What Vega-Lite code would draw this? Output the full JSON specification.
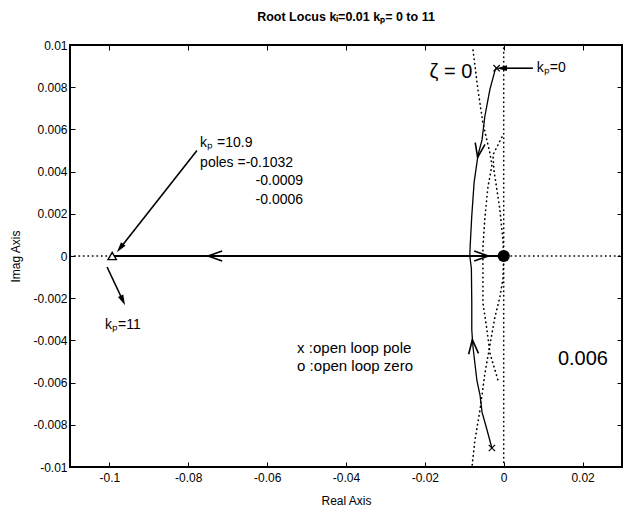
{
  "$schema": "https://vega.github.io/schema/vega-lite/v6.json",
  "width": 552,
  "height": 422,
  "autosize": {"type": "none"},
  "padding": {"left": 70, "top": 45, "right": 6, "bottom": 48},
  "background": "white",
  "config": {
    "view": {"stroke": "black", "strokeWidth": 2},
    "font": "Liberation Sans",
    "axis": {"labelColor": "black", "titleColor": "black", "tickColor": "black", "grid": false, "domain": false, "labelOverlap": false, "labelFlush": false, "labelFont": "Liberation Sans", "titleFont": "Liberation Sans"}
  },
  "title": {"text": "Root Locus kᵢ=0.01 kₚ= 0 to 11", "fontSize": 12.5, "font": "Liberation Sans", "fontWeight": "bold", "offset": 16, "anchor": "middle", "color": "black"},
  "datasets": {
    "dotted": [
      {"curve": "A", "i": 0, "re": -0.00779, "im": 0.00976},
      {"curve": "A", "i": 1, "re": -0.00653, "im": 0.00787},
      {"curve": "A", "i": 2, "re": -0.00527, "im": 0.0063},
      {"curve": "A", "i": 3, "re": -0.0035, "im": 0.00488},
      {"curve": "A", "i": 4, "re": -0.00299, "im": 0.0043},
      {"curve": "A", "i": 5, "re": -0.004, "im": 0.00327},
      {"curve": "A", "i": 6, "re": -0.00476, "im": 0.00185},
      {"curve": "A", "i": 7, "re": -0.00527, "im": 0.00043},
      {"curve": "A", "i": 8, "re": -0.00527, "im": -0.00081},
      {"curve": "A", "i": 9, "re": -0.00527, "im": -0.00223},
      {"curve": "A", "i": 10, "re": -0.00425, "im": -0.0035},
      {"curve": "A", "i": 11, "re": -0.0035, "im": -0.0046},
      {"curve": "A", "i": 12, "re": -0.00223, "im": -0.0054},
      {"curve": "A", "i": 13, "re": -0.00147, "im": -0.00588},
      {"curve": "B", "i": 0, "re": -0.00046, "im": 0.00564},
      {"curve": "B", "i": 1, "re": -0.00274, "im": 0.00479},
      {"curve": "B", "i": 2, "re": -0.00248, "im": 0.00407},
      {"curve": "B", "i": 3, "re": -0.00172, "im": 0.00313},
      {"curve": "B", "i": 4, "re": -0.00096, "im": 0.00218},
      {"curve": "B", "i": 5, "re": -0.00021, "im": 0.00076},
      {"curve": "B", "i": 6, "re": 0, "im": 0},
      {"curve": "B", "i": 7, "re": -0.00021, "im": -0.0011},
      {"curve": "B", "i": 8, "re": -0.00096, "im": -0.00194},
      {"curve": "B", "i": 9, "re": -0.00223, "im": -0.00289},
      {"curve": "B", "i": 10, "re": -0.0035, "im": -0.00422},
      {"curve": "B", "i": 11, "re": -0.00476, "im": -0.00555},
      {"curve": "B", "i": 12, "re": -0.00602, "im": -0.0073},
      {"curve": "B", "i": 13, "re": -0.00729, "im": -0.00872},
      {"curve": "B", "i": 14, "re": -0.00805, "im": -0.01},
      {"curve": "imag", "i": 0, "re": 0, "im": -0.01},
      {"curve": "imag", "i": 1, "re": 0, "im": 0.01},
      {"curve": "real", "i": 0, "re": -0.11, "im": 0},
      {"curve": "real", "i": 1, "re": 0.03, "im": 0}
    ],
    "locus": [
      {"branch": "upper", "i": 0, "re": -0.0018, "im": 0.0089},
      {"branch": "upper", "i": 1, "re": -0.0022, "im": 0.0088},
      {"branch": "upper", "i": 2, "re": -0.0035, "im": 0.0079},
      {"branch": "upper", "i": 3, "re": -0.0048, "im": 0.0066},
      {"branch": "upper", "i": 4, "re": -0.0055, "im": 0.0055},
      {"branch": "upper", "i": 5, "re": -0.0065, "im": 0.0048},
      {"branch": "upper", "i": 6, "re": -0.0075, "im": 0.0035},
      {"branch": "upper", "i": 7, "re": -0.0081, "im": 0.0019},
      {"branch": "upper", "i": 8, "re": -0.0085, "im": 0.0005},
      {"branch": "upper", "i": 9, "re": -0.0086, "im": 0},
      {"branch": "lower", "i": 0, "re": -0.003, "im": -0.0091},
      {"branch": "lower", "i": 1, "re": -0.0043, "im": -0.0082},
      {"branch": "lower", "i": 2, "re": -0.0055, "im": -0.0074},
      {"branch": "lower", "i": 3, "re": -0.006, "im": -0.0066},
      {"branch": "lower", "i": 4, "re": -0.0068, "im": -0.0059},
      {"branch": "lower", "i": 5, "re": -0.0078, "im": -0.0043},
      {"branch": "lower", "i": 6, "re": -0.0081, "im": -0.0035},
      {"branch": "lower", "i": 7, "re": -0.0081, "im": -0.0022},
      {"branch": "lower", "i": 8, "re": -0.0082, "im": -0.0006},
      {"branch": "lower", "i": 9, "re": -0.0086, "im": 0},
      {"branch": "real", "i": 0, "re": -0.0993, "im": 0},
      {"branch": "real", "i": 1, "re": -0.0003, "im": 0}
    ],
    "pointers": [
      {"arrow": "kp0", "i": 0, "re": 0.0074, "im": 0.0089},
      {"arrow": "kp0", "i": 1, "re": -0.0005, "im": 0.0089},
      {"arrow": "kp109", "i": 0, "re": -0.0778, "im": 0.005},
      {"arrow": "kp109", "i": 1, "re": -0.0973, "im": 0.00037},
      {"arrow": "kp11", "i": 0, "re": -0.1006, "im": -0.00052},
      {"arrow": "kp11", "i": 1, "re": -0.0966, "im": -0.00211}
    ],
    "heads": [
      {"head": "chevLeft", "re": -0.0732, "im": 0},
      {"head": "chevRight", "re": -0.0057, "im": 0},
      {"head": "chevDown", "re": -0.0063, "im": 0.005},
      {"head": "chevUp", "re": -0.0078, "im": -0.0043},
      {"head": "kp0", "re": -0.0005, "im": 0.0089},
      {"head": "kp109", "re": -0.0973, "im": 0.00037},
      {"head": "kp11", "re": -0.0966, "im": -0.00211}
    ],
    "markers": [
      {"kind": "zero", "re": 0, "im": 0},
      {"kind": "pole", "re": -0.0018, "im": 0.0089},
      {"kind": "pole", "re": -0.003, "im": -0.0091},
      {"kind": "final", "re": -0.0993, "im": 0}
    ],
    "notes": [
      {"role": "note", "re": 0.0084, "im": 0.0089, "label": "kₚ=0"},
      {"role": "note", "re": -0.077, "im": 0.00536, "label": "kₚ =10.9"},
      {"role": "note", "re": -0.077, "im": 0.00441, "label": "poles =-0.1032"},
      {"role": "note", "re": -0.1011, "im": -0.00327, "label": "kₚ=11"},
      {"role": "legend", "re": -0.0524, "im": -0.00436, "label": "x :open loop pole"},
      {"role": "legend", "re": -0.0524, "im": -0.0052, "label": "o :open loop zero"},
      {"role": "poleval", "re": -0.0509, "im": 0.00355, "label": "-0.0009"},
      {"role": "poleval", "re": -0.0509, "im": 0.00265, "label": "-0.0006"},
      {"role": "grid", "re": -0.0134, "im": 0.0087, "label": "ζ = 0"},
      {"role": "grid", "re": 0.0201, "im": -0.0049, "label": "0.006"}
    ]
  },
  "resolve": {"axis": {"x": "independent", "y": "independent"}},
  "layer": [
    {
      "data": {"name": "dotted"},
      "mark": {"type": "line", "color": "black", "strokeWidth": 1.6, "strokeDash": [0.5, 4], "strokeCap": "round", "clip": true},
      "encoding": {
        "x": {"field": "re", "type": "quantitative", "scale": {"domain": [-0.11, 0.03], "nice": false, "zero": false},
              "axis": {"orient": "bottom", "values": [-0.1, -0.08, -0.06, -0.04, -0.02, 0, 0.02], "labelExpr": "'' + datum.value", "title": "Real Axis", "tickSize": -5, "labelPadding": 10, "labelFontSize": 12, "titleFontSize": 12, "titleFontWeight": "normal", "titlePadding": 12}},
        "y": {"field": "im", "type": "quantitative", "scale": {"domain": [-0.01, 0.01], "nice": false, "zero": false},
              "axis": {"orient": "left", "values": [-0.01, -0.008, -0.006, -0.004, -0.002, 0, 0.002, 0.004, 0.006, 0.008, 0.01], "labelExpr": "'' + datum.value", "title": "Imag Axis", "tickSize": -5, "labelPadding": 8, "labelFontSize": 12, "titleFontSize": 12, "titleFontWeight": "normal", "titlePadding": 10}},
        "detail": {"field": "curve"},
        "order": {"field": "i"}
      }
    },
    {
      "data": {"name": "locus"},
      "transform": [{"filter": "datum.branch != 'real'"}],
      "mark": {"type": "line", "color": "black", "strokeWidth": 1.3},
      "encoding": {
        "x": {"field": "re", "type": "quantitative", "axis": {"orient": "top", "values": [-0.1, -0.08, -0.06, -0.04, -0.02, 0, 0.02], "labels": false, "tickSize": -5, "title": null}},
        "y": {"field": "im", "type": "quantitative", "axis": {"orient": "right", "values": [-0.01, -0.008, -0.006, -0.004, -0.002, 0, 0.002, 0.004, 0.006, 0.008, 0.01], "labels": false, "tickSize": -5, "title": null}},
        "detail": {"field": "branch"},
        "order": {"field": "i"}
      }
    },
    {
      "data": {"name": "locus"},
      "transform": [{"filter": "datum.branch == 'real'"}],
      "mark": {"type": "line", "color": "black", "strokeWidth": 2},
      "encoding": {
        "x": {"field": "re", "type": "quantitative", "axis": null},
        "y": {"field": "im", "type": "quantitative", "axis": null},
        "order": {"field": "i"}
      }
    },
    {
      "data": {"name": "pointers"},
      "mark": {"type": "line", "color": "black", "strokeWidth": 1.6},
      "encoding": {
        "x": {"field": "re", "type": "quantitative", "axis": null},
        "y": {"field": "im", "type": "quantitative", "axis": null},
        "detail": {"field": "arrow"},
        "order": {"field": "i"}
      }
    },
    {
      "data": {"name": "heads"},
      "transform": [{"filter": "datum.head == 'chevLeft'"}],
      "mark": {"type": "point", "shape": "M -1 -0.7 L 1 0 L -1 0.7", "angle": 180, "size": 200, "filled": false, "stroke": "black", "strokeWidth": 1.6, "opacity": 1},
      "encoding": {"x": {"field": "re", "type": "quantitative", "axis": null}, "y": {"field": "im", "type": "quantitative", "axis": null}}
    },
    {
      "data": {"name": "heads"},
      "transform": [{"filter": "datum.head == 'chevRight'"}],
      "mark": {"type": "point", "shape": "M -1 -0.7 L 1 0 L -1 0.7", "angle": 0, "size": 200, "filled": false, "stroke": "black", "strokeWidth": 1.6, "opacity": 1},
      "encoding": {"x": {"field": "re", "type": "quantitative", "axis": null}, "y": {"field": "im", "type": "quantitative", "axis": null}}
    },
    {
      "data": {"name": "heads"},
      "transform": [{"filter": "datum.head == 'chevDown'"}],
      "mark": {"type": "point", "shape": "M -1 -0.7 L 1 0 L -1 0.7", "angle": 100, "size": 200, "filled": false, "stroke": "black", "strokeWidth": 1.6, "opacity": 1},
      "encoding": {"x": {"field": "re", "type": "quantitative", "axis": null}, "y": {"field": "im", "type": "quantitative", "axis": null}}
    },
    {
      "data": {"name": "heads"},
      "transform": [{"filter": "datum.head == 'chevUp'"}],
      "mark": {"type": "point", "shape": "M -1 -0.7 L 1 0 L -1 0.7", "angle": 265, "size": 200, "filled": false, "stroke": "black", "strokeWidth": 1.6, "opacity": 1},
      "encoding": {"x": {"field": "re", "type": "quantitative", "axis": null}, "y": {"field": "im", "type": "quantitative", "axis": null}}
    },
    {
      "data": {"name": "heads"},
      "transform": [{"filter": "datum.head == 'kp0'"}],
      "mark": {"type": "point", "shape": "M -1 -0.55 L 1 0 L -1 0.55 Z", "angle": 180, "size": 110, "filled": true, "color": "black", "opacity": 1},
      "encoding": {"x": {"field": "re", "type": "quantitative", "axis": null}, "y": {"field": "im", "type": "quantitative", "axis": null}}
    },
    {
      "data": {"name": "heads"},
      "transform": [{"filter": "datum.head == 'kp109'"}],
      "mark": {"type": "point", "shape": "M -1 -0.55 L 1 0 L -1 0.55 Z", "angle": 128, "size": 110, "filled": true, "color": "black", "opacity": 1},
      "encoding": {"x": {"field": "re", "type": "quantitative", "axis": null}, "y": {"field": "im", "type": "quantitative", "axis": null}}
    },
    {
      "data": {"name": "heads"},
      "transform": [{"filter": "datum.head == 'kp11'"}],
      "mark": {"type": "point", "shape": "M -1 -0.55 L 1 0 L -1 0.55 Z", "angle": 65, "size": 110, "filled": true, "color": "black", "opacity": 1},
      "encoding": {"x": {"field": "re", "type": "quantitative", "axis": null}, "y": {"field": "im", "type": "quantitative", "axis": null}}
    },
    {
      "data": {"name": "markers"},
      "transform": [{"filter": "datum.kind == 'zero'"}],
      "mark": {"type": "point", "shape": "circle", "size": 150, "filled": true, "color": "black", "opacity": 1},
      "encoding": {"x": {"field": "re", "type": "quantitative", "axis": null}, "y": {"field": "im", "type": "quantitative", "axis": null}}
    },
    {
      "data": {"name": "markers"},
      "transform": [{"filter": "datum.kind == 'pole'"}],
      "mark": {"type": "point", "shape": "M -1 -1 L 1 1 M -1 1 L 1 -1", "size": 40, "filled": false, "stroke": "black", "strokeWidth": 1.2, "opacity": 1},
      "encoding": {"x": {"field": "re", "type": "quantitative", "axis": null}, "y": {"field": "im", "type": "quantitative", "axis": null}}
    },
    {
      "data": {"name": "markers"},
      "transform": [{"filter": "datum.kind == 'final'"}],
      "mark": {"type": "point", "shape": "triangle-up", "size": 70, "filled": true, "fill": "white", "stroke": "black", "strokeWidth": 1.4, "opacity": 1},
      "encoding": {"x": {"field": "re", "type": "quantitative", "axis": null}, "y": {"field": "im", "type": "quantitative", "axis": null}}
    },
    {
      "data": {"name": "notes"},
      "transform": [{"filter": "datum.role == 'note'"}],
      "mark": {"type": "text", "align": "left", "baseline": "middle", "fontSize": 14, "font": "Liberation Sans", "color": "black"},
      "encoding": {"x": {"field": "re", "type": "quantitative", "axis": null}, "y": {"field": "im", "type": "quantitative", "axis": null}, "text": {"field": "label"}}
    },
    {
      "data": {"name": "notes"},
      "transform": [{"filter": "datum.role == 'legend'"}],
      "mark": {"type": "text", "align": "left", "baseline": "middle", "fontSize": 15, "font": "Liberation Sans", "color": "black"},
      "encoding": {"x": {"field": "re", "type": "quantitative", "axis": null}, "y": {"field": "im", "type": "quantitative", "axis": null}, "text": {"field": "label"}}
    },
    {
      "data": {"name": "notes"},
      "transform": [{"filter": "datum.role == 'poleval'"}],
      "mark": {"type": "text", "align": "right", "baseline": "middle", "fontSize": 14, "font": "Liberation Sans", "color": "black"},
      "encoding": {"x": {"field": "re", "type": "quantitative", "axis": null}, "y": {"field": "im", "type": "quantitative", "axis": null}, "text": {"field": "label"}}
    },
    {
      "data": {"name": "notes"},
      "transform": [{"filter": "datum.role == 'grid'"}],
      "mark": {"type": "text", "align": "center", "baseline": "middle", "fontSize": 20, "font": "Liberation Sans", "color": "black"},
      "encoding": {"x": {"field": "re", "type": "quantitative", "axis": null}, "y": {"field": "im", "type": "quantitative", "axis": null}, "text": {"field": "label"}}
    }
  ]
}
